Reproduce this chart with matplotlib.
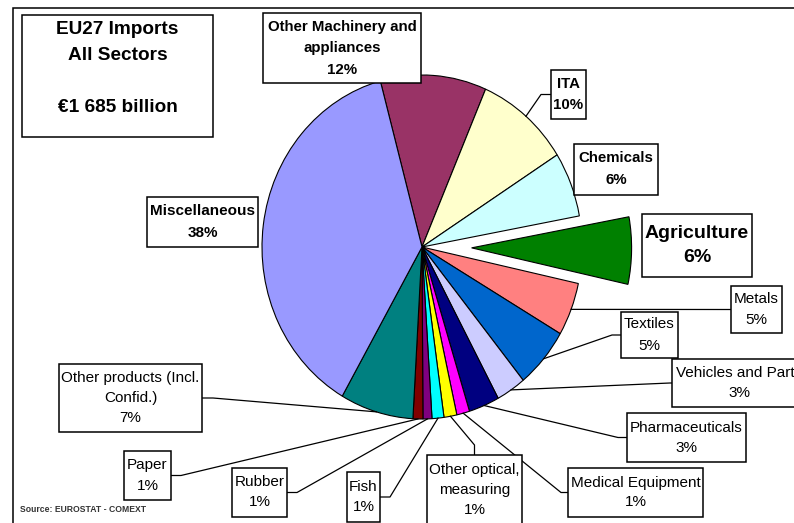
import numpy as np
import matplotlib
matplotlib.use("Agg")
import matplotlib.pyplot as plt
from matplotlib.patches import Rectangle

plt.rcParams["font.family"] = ["Liberation Sans", "DejaVu Sans"]

sectors = ["Other Machinery and\nappliances", "ITA", "Chemicals", "Agriculture",
           "Metals", "Textiles", "Vehicles and Parts", "Pharmaceuticals",
           "Medical Equipment", "Other optical,\nmeasuring", "Fish", "Rubber",
           "Paper", "Other products (Incl.\nConfid.)", "Miscellaneous"]
shares = [10.7, 9.5, 6.1, 6.3, 5.0, 5.7, 3.0, 3.1,
          1.3, 1.3, 1.2, 0.9, 1.0, 7.4, 37.5]
share_labels = ["12%", "10%", "6%", "6%", "5%", "5%", "3%", "3%",
                "1%", "1%", "1%", "1%", "1%", "7%", "38%"]
colors = ["#993366", "#FFFFCC", "#CCFFFF", "#008000", "#FF8080", "#0066CC",
          "#CCCCFF", "#000080", "#FF00FF", "#FFFF00", "#00FFFF", "#800080",
          "#800000", "#008080", "#9999FF"]
title_lines = ["EU27 Imports", "All Sectors", "", "\u20ac1 685 billion"]
source = "Source: EUROSTAT - COMEXT"

W, H = 794, 523
# layout in pixel: box (x0, y0, x1, y1), passo righe, peso, size, attacco leader
LAYOUT = {
    0:  dict(box=(263, 13, 421, 83), dy=21.5, bold=True, size=10.8, lead=None),
    1:  dict(box=(551, 70, 586, 119), dy=21, bold=True, size=10.8, lead=("L", 10)),
    2:  dict(box=(574, 144, 658, 195), dy=22, bold=True, size=10.8, lead=None),
    3:  dict(box=(642, 214, 752, 277), dy=25, bold=True, size=14, lead=None),
    4:  dict(box=(731, 286, 782, 333), dy=21, bold=False, size=11, lead=("L", 9)),
    5:  dict(box=(621, 312, 678, 358), dy=22, bold=False, size=11, lead=("L", 9)),
    6:  dict(box=(672, 359, 806, 407), dy=20, bold=False, size=11, lead=("L", 2)),
    7:  dict(box=(627, 413, 746, 462), dy=20, bold=False, size=11, lead=("L", 9)),
    8:  dict(box=(568, 468, 703, 517), dy=20, bold=False, size=11, lead=("L", 7)),
    9:  dict(box=(427, 455, 522, 527), dy=20, bold=False, size=11, lead=("T", 10)),
    10: dict(box=(347, 472, 380, 522), dy=20, bold=False, size=11, lead=("R", 10)),
    11: dict(box=(232, 468, 287, 517), dy=20, bold=False, size=11, lead=("R", 10)),
    12: dict(box=(124, 451, 171, 500), dy=20, bold=False, size=11, lead=("R", 10)),
    13: dict(box=(59, 364, 202, 432), dy=20, bold=False, size=11, lead=("R", 11)),
    14: dict(box=(147, 197, 258, 247), dy=22, bold=True, size=11, lead=None),
}

fig = plt.figure(figsize=(W / 100, H / 100), dpi=100)

# torta: centro (422, 247) px, raggi 160 x 172 px
cx, cy, rx, ry = 422, 247, 160, 172
pax = fig.add_axes([(cx - 1.25 * rx) / W, (H - cy - 1.25 * ry) / H,
                    2.5 * rx / W, 2.5 * ry / H])
explode = [0.31 if s.startswith("Agri") else 0 for s in sectors]
wedges, _ = pax.pie(shares, colors=colors, startangle=105.1, counterclock=False,
                    explode=explode,
                    wedgeprops=dict(edgecolor="black", linewidth=0.8))
pax.set_aspect("auto")
pax.set_xlim(-1.25, 1.25)
pax.set_ylim(-1.25, 1.25)
pax.axis("off")

# asse sovrapposto in coordinate pixel (y verso il basso)
ax = fig.add_axes([0, 0, 1, 1], zorder=5)
ax.set_xlim(0, W)
ax.set_ylim(H, 0)
ax.axis("off")
ax.patch.set_alpha(0)

to_px = lambda p: ax.transData.inverted().transform(pax.transData.transform(p))

# cornice esterna
ax.plot([13, 13, W + 10], [H + 10, 8, 8], color="black", lw=1.1,
        clip_on=False, solid_joinstyle="miter")

# riquadro titolo
ax.add_patch(Rectangle((22, 15), 191, 122, facecolor="white",
                       edgecolor="black", lw=1.1, zorder=3))
for k, line in enumerate(title_lines):
    ax.text(117.5, 29 + 26 * k, line, ha="center", va="center",
            fontsize=13.7, fontweight="bold", zorder=4)

for i, w in enumerate(wedges):
    lay = LAYOUT[i]
    x0, y0, x1, y1 = lay["box"]
    if lay["lead"] is not None:
        side, off = lay["lead"]
        th = np.deg2rad((w.theta1 + w.theta2) / 2)
        ctr = np.array(w.center)
        anchor = to_px(ctr + np.array([np.cos(th), np.sin(th)]))
        ym = (y0 + y1) / 2
        if side == "L":
            att, elb = (x0, ym), (x0 - off, ym)
        elif side == "R":
            att, elb = (x1, ym), (x1 + off, ym)
        else:
            xm = (x0 + x1) / 2
            att, elb = (xm, y0), (xm, y0 - off)
        ax.plot([anchor[0], elb[0], att[0]], [anchor[1], elb[1], att[1]],
                color="black", lw=0.9, zorder=2)
    ax.add_patch(Rectangle((x0, y0), x1 - x0, y1 - y0, facecolor="white",
                           edgecolor="black", lw=1.1, zorder=3, clip_on=False))
    lines = sectors[i].split("\n") + [share_labels[i]]
    n = len(lines)
    ym = (y0 + y1) / 2
    if i == 9:
        ym = 490
    for k, line in enumerate(lines):
        ax.text((x0 + x1) / 2, ym + (k - (n - 1) / 2) * lay["dy"], line,
                ha="center", va="center", fontsize=lay["size"],
                fontweight="bold" if lay["bold"] else "normal",
                zorder=4, clip_on=False)

ax.text(20, 510, source, ha="left", va="center", fontsize=6.2,
        fontweight="bold", color="#333333")

fig.savefig("out.png", dpi=100)
